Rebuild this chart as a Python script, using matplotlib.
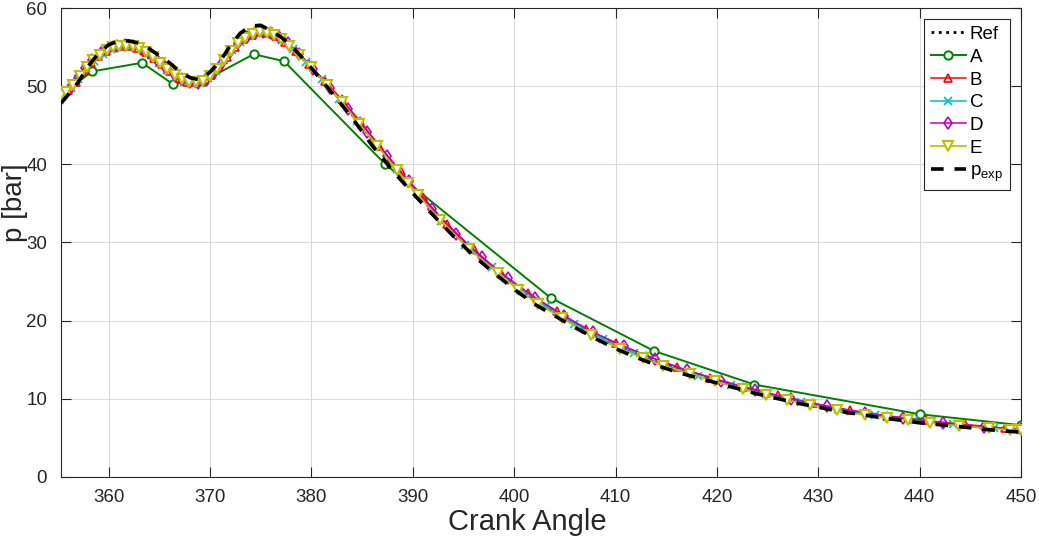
import matplotlib
matplotlib.use("Agg")
import matplotlib.pyplot as plt

plt.rcParams['font.family'] = ['Liberation Sans', 'DejaVu Sans']
plt.rcParams['mathtext.fontset'] = 'custom'
plt.rcParams['mathtext.rm'] = 'Liberation Sans'
plt.rcParams['mathtext.it'] = 'Liberation Sans'

# Reference solution (dotted, mostly hidden)
ref_x = [355.3, 356.0, 356.8, 357.6, 358.3, 359.0, 359.7, 360.5, 361.3, 362.1, 362.9, 363.7, 364.5, 365.3,
         366.1, 366.9, 367.7, 368.5, 369.3, 370.1, 370.9, 371.7, 372.5, 373.3, 374.1, 374.9, 375.7, 376.5,
         377.4, 378.5, 379.8, 381.3, 383.0, 384.8, 386.7, 388.8, 391.0, 393.4, 396.0, 398.7, 401.4, 404.2,
         407.1, 410.0, 413.0, 416.1, 419.3, 422.6, 426.0, 429.5, 433.1, 436.8, 440.6, 444.5, 448.4, 450.0]
ref_y = [48.9, 49.5, 50.6, 51.9, 53.0, 53.9, 54.5, 55.0, 55.3, 55.2, 54.9, 54.4, 53.7, 52.8,
         51.9, 51.2, 50.7, 50.5, 50.7, 51.4, 52.5, 53.8, 55.0, 56.0, 56.7, 57.0, 56.9, 56.5,
         55.7, 54.4, 52.7, 50.5, 48.0, 45.1, 42.1, 38.8, 35.4, 32.0, 28.7, 25.8, 23.2, 20.9,
         18.6, 16.8, 15.2, 13.8, 12.5, 11.3, 10.2, 9.2, 8.3, 7.6, 7.0, 6.5, 6.1, 6.0]

# A (coarse steps)
a_x = [355.3, 358.4, 363.3, 366.3, 369.4, 374.3, 377.3, 387.3, 403.6, 413.8, 423.7, 440.0, 450.0]
a_y = [48.9, 51.9, 53.0, 50.3, 50.7, 54.1, 53.2, 40.0, 22.9, 16.1, 11.8, 8.0, 6.6]

# B
b_x = [355.3, 356.0, 356.8, 357.6, 358.3, 359.0, 359.7, 360.5, 361.3, 362.1, 362.9, 363.7, 364.5, 365.3,
       366.1, 366.9, 367.7, 368.5, 369.3, 370.1, 370.9, 371.7, 372.5, 373.3, 374.1, 374.9, 375.7, 376.5,
       377.4, 378.5, 379.8, 381.3, 383.0, 384.8, 386.7, 388.8, 391.0, 393.4, 396.0, 398.7, 401.4, 404.2,
       407.1, 410.0, 413.0, 416.1, 419.3, 422.6, 426.0, 429.5, 433.1, 436.8, 440.6, 444.5, 448.4, 450.0]
b_y = [48.8, 49.5, 50.6, 51.9, 53.0, 53.9, 54.5, 55.0, 55.2, 55.2, 54.9, 54.4, 53.6, 52.8,
       51.9, 51.1, 50.6, 50.5, 50.7, 51.4, 52.5, 53.8, 55.0, 56.0, 56.6, 56.9, 56.8, 56.4,
       55.7, 54.5, 52.8, 50.7, 48.3, 45.5, 42.4, 39.1, 35.8, 32.3, 29.1, 26.1, 23.5, 21.2,
       18.9, 17.1, 15.5, 14.0, 12.7, 11.5, 10.4, 9.4, 8.5, 7.8, 7.2, 6.7, 6.2, 6.1]

# C
c_x = [355.3, 355.6, 356.3, 357.0, 357.8, 358.6, 359.4, 360.2, 361.0, 361.8, 362.6, 363.4, 364.2, 365.0,
       365.8, 366.6, 367.4, 368.2, 369.0, 369.8, 370.6, 371.4, 372.2, 373.0, 373.8, 374.6, 375.4, 376.2,
       377.1, 378.2, 379.5, 381.0, 382.7, 384.5, 386.4, 388.4, 390.5, 392.8, 395.2, 397.8, 400.4, 403.1,
       405.9, 408.8, 411.8, 414.9, 418.1, 421.4, 424.8, 428.3, 431.9, 435.6, 439.4, 443.3, 447.3, 450.0]
c_y = [48.7, 49.0, 49.8, 50.9, 52.3, 53.2, 54.1, 54.8, 55.1, 55.2, 55.0, 54.6, 54.0, 53.0,
       52.1, 51.2, 50.6, 50.3, 50.4, 51.0, 52.0, 53.3, 54.6, 55.6, 56.4, 56.9, 57.0, 56.6,
       55.9, 54.8, 53.1, 50.9, 48.4, 45.6, 42.6, 39.4, 36.2, 32.8, 29.7, 26.8, 24.2, 21.8,
       19.6, 17.6, 15.8, 14.3, 12.9, 11.7, 10.6, 9.6, 8.7, 7.9, 7.3, 6.7, 6.3, 6.0]

# D
d_x = [355.3, 356.2, 357.0, 357.7, 358.4, 359.2, 360.0, 360.8, 361.6, 362.4, 363.2, 364.0, 364.8, 365.6,
       366.4, 367.2, 368.0, 368.8, 369.6, 370.4, 371.2, 372.0, 372.8, 373.6, 374.4, 375.2, 376.0, 376.8,
       377.7, 378.8, 380.2, 381.8, 383.6, 385.5, 387.5, 389.6, 391.9, 394.3, 396.8, 399.4, 402.1, 404.9,
       407.8, 410.8, 413.9, 417.1, 420.4, 423.8, 427.3, 430.9, 434.6, 438.4, 442.3, 446.3, 450.0]
d_y = [48.8, 49.7, 51.0, 52.3, 53.4, 54.3, 54.9, 55.2, 55.3, 55.1, 54.7, 54.2, 53.4, 52.5,
       51.6, 50.9, 50.5, 50.4, 50.8, 51.7, 53.0, 54.4, 55.5, 56.3, 56.8, 57.0, 56.8, 56.3,
       55.5, 54.1, 52.2, 49.8, 47.1, 44.2, 41.0, 37.8, 34.3, 31.1, 28.1, 25.4, 22.9, 20.6,
       18.5, 16.7, 15.1, 13.6, 12.3, 11.1, 10.0, 9.0, 8.2, 7.5, 6.9, 6.4, 6.1]

# E
e_x = [355.3, 355.8, 356.5, 357.2, 357.9, 358.5, 359.1, 359.8, 360.4, 361.0, 361.7, 362.4, 363.0, 363.7,
       364.4, 365.1, 365.8, 366.5, 367.2, 367.9, 368.6, 369.3, 370.0, 370.7, 371.4, 372.1, 372.8, 373.5,
       374.2, 374.9, 375.6, 376.3, 377.0, 377.8, 378.8, 380.0, 381.5, 383.0, 384.7, 386.5, 388.4, 389.5,
       390.5, 392.7, 395.5, 398.4, 400.4, 402.4, 404.7, 407.6, 410.4, 412.7, 414.7, 417.3, 419.8, 422.6,
       424.8, 426.9, 429.2, 431.8, 434.6, 436.8, 438.9, 441.0, 443.9, 446.8, 448.9, 450.0]
e_y = [48.9, 49.3, 50.1, 51.3, 52.5, 53.3, 54.0, 54.6, 55.0, 55.2, 55.2, 55.1, 54.9, 54.4,
       53.8, 53.0, 52.2, 51.4, 50.9, 50.6, 50.5, 50.7, 51.3, 52.2, 53.3, 54.5, 55.5, 56.2,
       56.7, 56.9, 56.8, 56.5, 56.0, 55.2, 54.0, 52.4, 50.2, 48.0, 45.2, 42.4, 39.3, 37.6,
       36.1, 32.9, 29.2, 26.1, 23.9, 22.1, 20.3, 18.1, 16.4, 15.2, 14.2, 13.2, 12.2, 11.2,
       10.5, 9.8, 9.2, 8.5, 7.9, 7.5, 7.2, 6.9, 6.5, 6.2, 6.0, 5.95]

# measured pressure
pexp_x = [355.3, 356, 357, 358, 359, 360, 361, 362, 363, 364, 365, 366, 367, 368, 369, 370, 371, 372,
          373, 374, 375, 376, 377, 378, 379, 380, 382, 384, 386, 388, 390, 392, 394, 396, 398, 400,
          402, 404, 406, 408, 410, 412, 414, 416, 418, 420, 424, 428, 432, 436, 440, 444, 447, 450]
pexp_y = [47.8, 48.9, 50.5, 52.6, 54.2, 55.3, 55.8, 55.8, 55.5, 54.8, 53.9, 53.0, 51.9, 51.1, 50.8,
          51.8, 53.2, 55.2, 56.8, 57.7, 57.8, 57.1, 56.3, 55.2, 53.8, 52.3, 49.2, 46.0, 42.4, 39.2,
          36.3, 33.5, 30.8, 28.3, 26.1, 24.0, 22.1, 20.6, 19.1, 17.7, 16.4, 15.3, 14.3, 13.4, 12.7,
          12.0, 10.6, 9.4, 8.4, 7.6, 6.9, 6.4, 6.0, 5.7]

x_ticks = [360, 370, 380, 390, 400, 410, 420, 430, 440, 450]
y_ticks = [0, 10, 20, 30, 40, 50, 60]

fig = plt.figure(figsize=(10.39, 5.4), dpi=100)
ax = fig.add_axes([0.0587, 0.1172, 0.9240, 0.8678])

ax.plot(ref_x, ref_y, ':', color='k', lw=2, label='Ref', zorder=2)
ax.plot(a_x, a_y, '-o', color='#008000', lw=1.4, ms=6, mfc='white', mew=1.4, label='A', zorder=3)
ax.plot(b_x, b_y, '-^', color='#FF0000', lw=1.1, ms=6, mfc='none', mew=1.2, label='B', zorder=3)
ax.plot(c_x, c_y, '-x', color='#00BFBF', lw=1.1, ms=6, mew=1.2, label='C', zorder=3)
ax.plot(d_x, d_y, '-d', color='#BF00BF', lw=1.1, ms=6, mfc='none', mew=1.2, label='D', zorder=3)
ax.plot(e_x, e_y, '-v', color='#BFBF00', lw=1.2, ms=7, mfc='white', mew=1.5, label='E', zorder=3)
ax.plot(pexp_x, pexp_y, color='k', lw=2.6, linestyle=(0, (3.5, 3)), label='p$_{\\mathregular{exp}}$', zorder=4)

ax.set_xlim(355.3, 450)
ax.set_ylim(0, 60)
ax.set_xticks(x_ticks)
ax.set_yticks(y_ticks)
ax.grid(True, color='#DCDCDC', lw=0.8)
ax.set_axisbelow(True)
ax.tick_params(direction='in', length=7, width=0.8, top=True, right=True,
               labelsize=13.5, colors='#262626')
ax.tick_params(axis='x', pad=9)
ax.tick_params(axis='y', pad=10)
for s in ax.spines.values():
    s.set_color('#262626')
    s.set_linewidth(0.8)

ax.set_xlabel('Crank Angle', fontsize=21, color='#262626')
ax.set_ylabel('p [bar]', fontsize=20, color='#262626')
ax.xaxis.set_label_coords(0.486, -0.066)
ax.yaxis.set_label_coords(-0.034, 0.585)

leg = ax.legend(loc='upper right', fontsize=13.5, handlelength=1.9, handletextpad=0.2,
                labelspacing=0.3, borderpad=0.35, borderaxespad=0.6, fancybox=False,
                framealpha=1, edgecolor='#262626')
leg.get_frame().set_linewidth(0.8)

fig.savefig('out.png', dpi=100)
